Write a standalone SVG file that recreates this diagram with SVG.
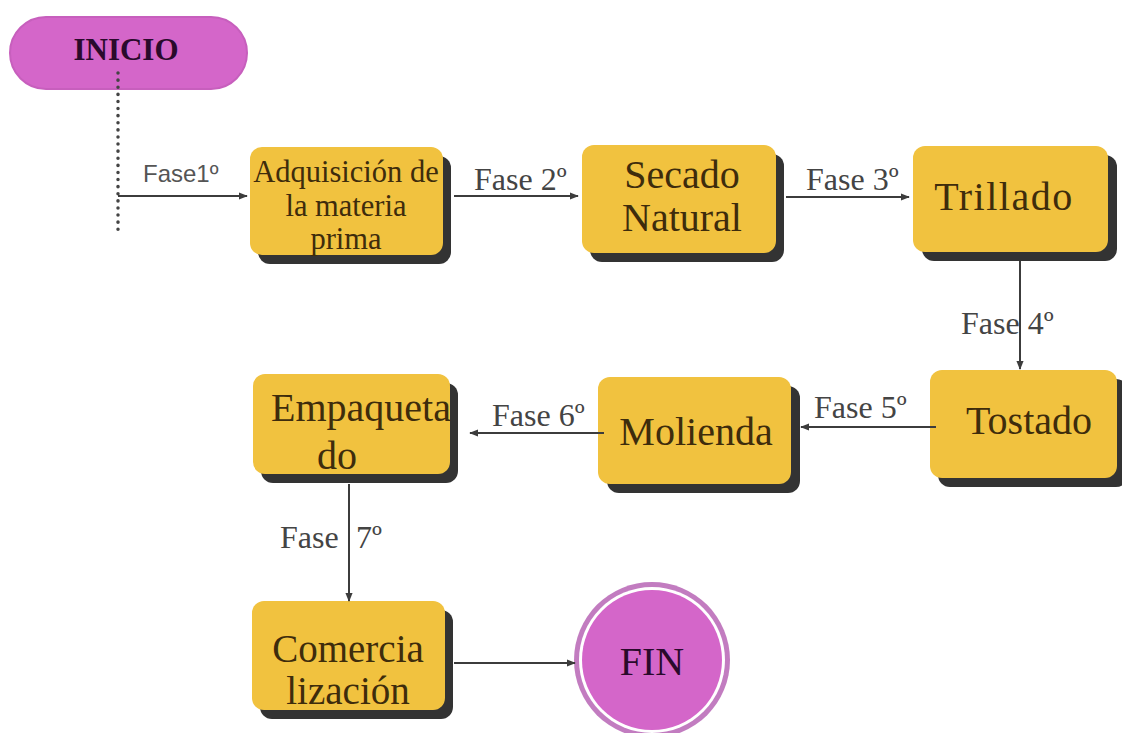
<svg xmlns="http://www.w3.org/2000/svg" width="1122" height="733" viewBox="0 0 1122 733">
<defs>
<marker id="ah" viewBox="0 0 10 10" refX="9" refY="5" markerWidth="9" markerHeight="9" markerUnits="userSpaceOnUse" orient="auto">
<path d="M0,1 L10,5 L0,9 Z" fill="#3c3c3c"/>
</marker>
</defs>
<style>
.box{fill:#f1c23f;}
.sh{fill:#333333;}
.t{font-family:"Liberation Serif","Times New Roman",serif;font-size:40px;fill:#3e2c0c;text-anchor:middle;}
.ts{font-size:30.5px;}
.lbl{font-family:"Liberation Serif","Times New Roman",serif;font-size:32px;fill:#444444;}
.lbls{font-family:"Liberation Sans",Arial,sans-serif;font-size:24px;fill:#555555;}
.ln{stroke:#3c3c3c;stroke-width:2;fill:none;}
.pink{fill:#d466c9;}
.pt{font-family:"Liberation Serif","Times New Roman",serif;fill:#2a0a2c;text-anchor:middle;}
</style>
<rect width="1122" height="733" fill="#ffffff"/>

<g id="inicio">
<rect x="10" y="17" width="237" height="72" rx="36" class="pink" stroke="#c75fbd" stroke-width="2"/>
<text x="126" y="60" class="pt" font-size="31" font-weight="bold">INICIO</text>
</g>

<g id="adquisicion">
<rect x="258" y="156" width="193" height="108" rx="12" class="sh"/>
<rect x="250" y="147" width="193" height="108" rx="12" class="box"/>
<text class="t ts" x="346" y="182">Adquisición de</text>
<text class="t ts" x="346" y="216">la materia</text>
<text class="t ts" x="346" y="249">prima</text>
</g>

<g id="secado">
<rect x="590" y="154" width="194" height="108" rx="12" class="sh"/>
<rect x="582" y="145" width="194" height="108" rx="12" class="box"/>
<text class="t" x="682" y="188">Secado</text>
<text class="t" x="682" y="231">Natural</text>
</g>

<g id="trillado">
<rect x="922" y="155" width="195" height="106" rx="12" class="sh"/>
<rect x="913" y="146" width="195" height="106" rx="12" class="box"/>
<text class="t" x="1004" y="210" letter-spacing="1.5">Trillado</text>
</g>

<g id="tostado">
<rect x="938" y="379" width="190" height="108" rx="12" class="sh"/>
<rect x="930" y="370" width="187" height="108" rx="12" class="box"/>
<text class="t" x="1029" y="434">Tostado</text>
</g>

<g id="molienda">
<rect x="607" y="386" width="193" height="107" rx="12" class="sh"/>
<rect x="598" y="377" width="193" height="107" rx="12" class="box"/>
<text class="t" x="696" y="445">Molienda</text>
</g>

<g id="empaquetado">
<rect x="261" y="383" width="197" height="100" rx="12" class="sh"/>
<rect x="253" y="374" width="197" height="100" rx="12" class="box"/>
<text class="t" x="271" y="421" style="text-anchor:start">Empaqueta</text>
<text class="t" x="337" y="469">do</text>
</g>

<g id="comercializacion">
<rect x="260" y="610" width="193" height="109" rx="12" class="sh"/>
<rect x="252" y="601" width="193" height="109" rx="12" class="box"/>
<text class="t" x="348" y="662" font-size="39" style="font-size:39px">Comercia</text>
<text class="t" x="348" y="704" font-size="39" style="font-size:39px">lización</text>
</g>

<g id="fin">
<circle cx="652" cy="660" r="78" fill="#c27cc0"/>
<circle cx="652" cy="660" r="73" fill="#ffffff"/>
<circle cx="652" cy="660" r="70" class="pink"/>
<text x="652" y="675" class="pt" font-size="40">FIN</text>
</g>

<g id="connectors">
<line x1="118" y1="73" x2="118" y2="233" stroke="#444444" stroke-width="3.5" stroke-linecap="round" stroke-dasharray="0.1 7"/>
<line x1="118" y1="196" x2="247" y2="196" class="ln" marker-end="url(#ah)"/>
<text class="lbls" x="143" y="182">Fase1º</text>

<line x1="454" y1="196" x2="578" y2="196" class="ln" marker-end="url(#ah)"/>
<text class="lbl" x="474" y="190">Fase 2º</text>

<line x1="786" y1="197" x2="909" y2="197" class="ln" marker-end="url(#ah)"/>
<text class="lbl" x="806" y="190">Fase 3º</text>

<line x1="1020" y1="261" x2="1020" y2="369" class="ln" marker-end="url(#ah)"/>
<text class="lbl" x="961" y="334">Fase 4º</text>

<line x1="936" y1="427" x2="801" y2="427" class="ln" marker-end="url(#ah)"/>
<text class="lbl" x="814" y="418">Fase 5º</text>

<line x1="604" y1="433" x2="470" y2="433" class="ln" marker-end="url(#ah)"/>
<text class="lbl" x="492" y="426">Fase 6º</text>

<line x1="349" y1="484" x2="349" y2="601" class="ln" marker-end="url(#ah)"/>
<text class="lbl" x="280" y="548">Fase</text>
<text class="lbl" x="356" y="548">7º</text>

<line x1="454" y1="663" x2="575" y2="663" class="ln" marker-end="url(#ah)"/>
</g>
</svg>
